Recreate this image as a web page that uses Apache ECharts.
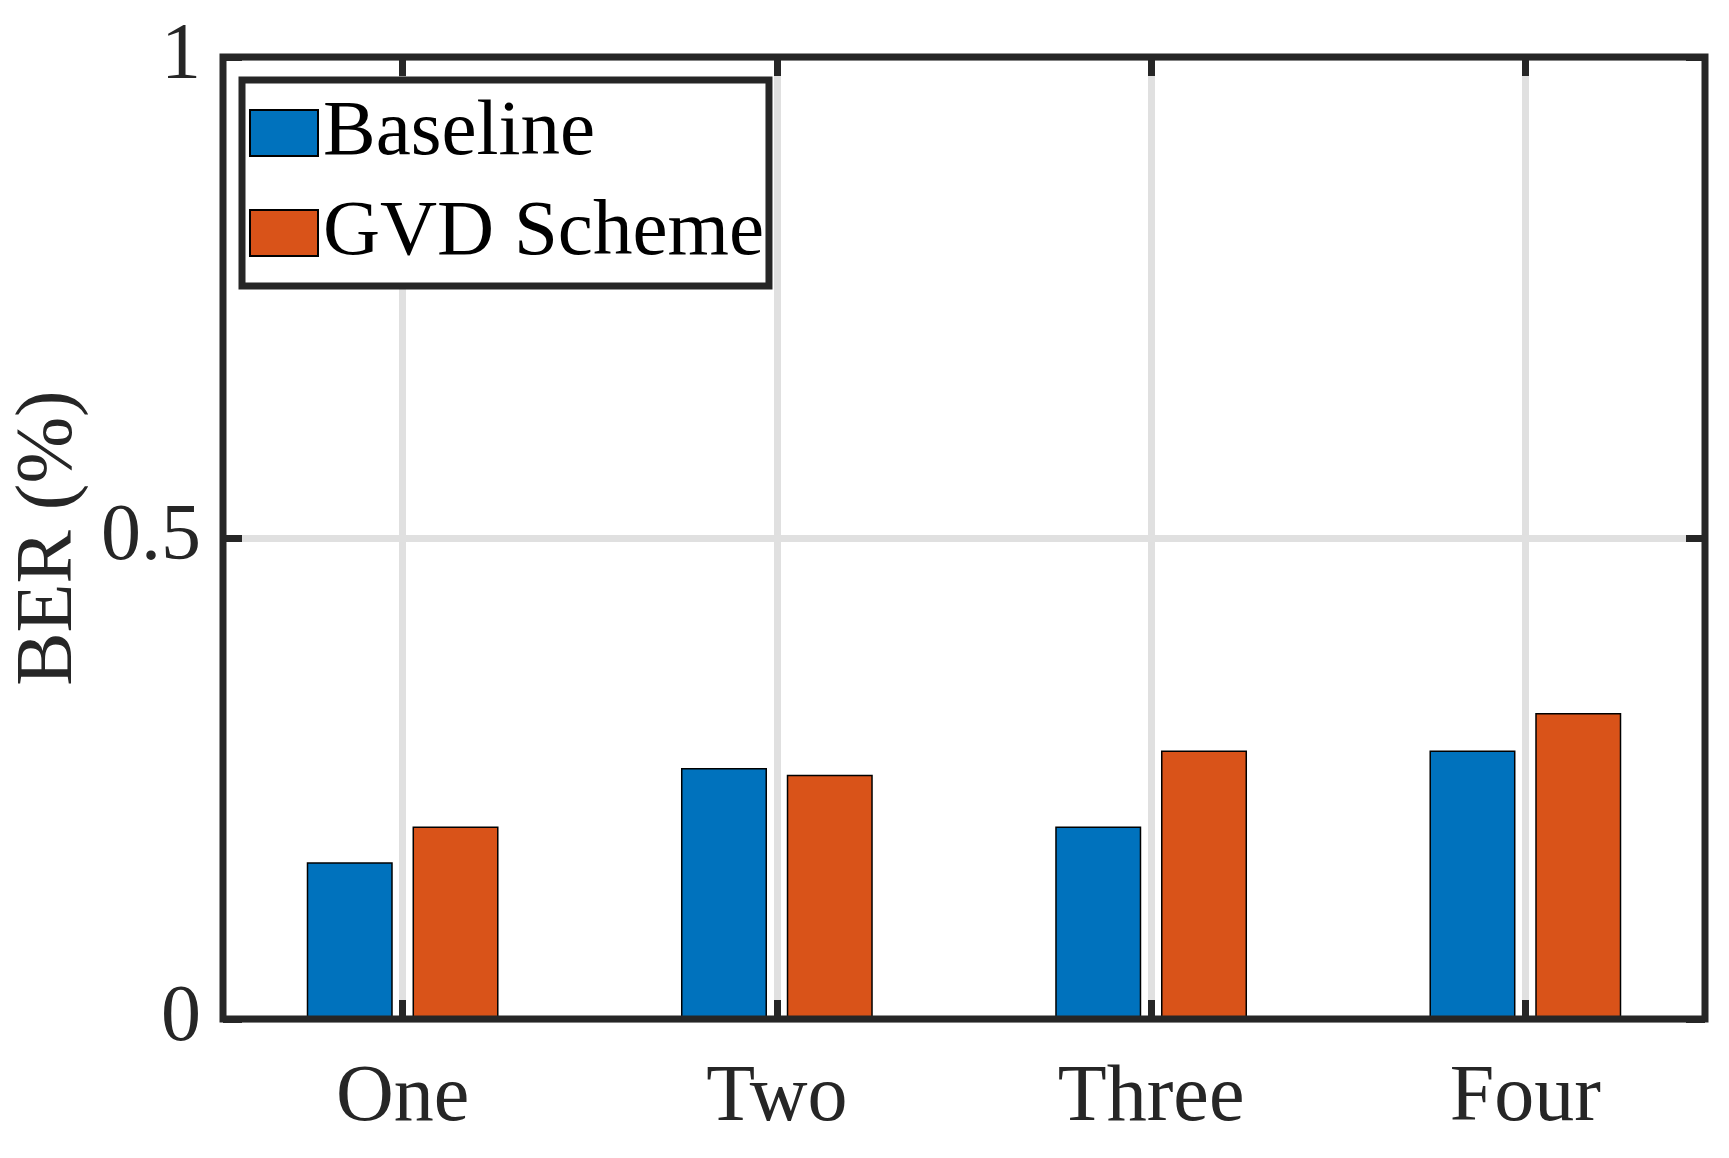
<!DOCTYPE html>
<html><head><meta charset="utf-8">
<script src="https://cdn.jsdelivr.net/npm/echarts@6/dist/echarts.min.js"></script>
<style>html,body{margin:0;padding:0;background:#fff}#c{width:1729px;height:1158px}</style>
</head><body><div id="c"></div>
<script>
const categories = ['One', 'Two', 'Three', 'Four'];
const categoryPositions = [1, 2, 3, 4];
const baselineValues = [0.163, 0.261, 0.200, 0.279];
const gvdValues = [0.200, 0.254, 0.279, 0.318];
const seriesNames = ['Baseline', 'GVD Scheme'];

const FONT = "'Liberation Serif', 'Times New Roman', serif";
const AX = '#262626';
const GRIDC = '#e0e0e0';

function pairs(vals) { return categoryPositions.map((x, i) => [x, vals[i]]); }

const chart = echarts.init(document.getElementById('c'), null, { renderer: 'canvas' });
chart.setOption({
  animation: false,
  backgroundColor: '#ffffff',
  grid: {
    show: true, z: 4, left: 223, right: 24, top: 57, bottom: 139,
    borderWidth: 7, borderColor: AX, backgroundColor: 'transparent',
    containLabel: false
  },
  legend: {
    show: true, z: 10, orient: 'vertical', left: 242, top: 80,
    padding: [6, 5, 6, 7], itemGap: 6, itemWidth: 68, itemHeight: 46,
    icon: 'rect', backgroundColor: '#ffffff', borderColor: AX, borderWidth: 7, borderRadius: 0,
    textStyle: { fontFamily: FONT, fontSize: 79, color: '#000', lineHeight: 80, padding: [14, 0, 0, 0] },
    data: seriesNames
  },
  xAxis: [{
    type: 'value', position: 'bottom', min: 0.52, max: 4.48,
    axisLine: { show: false, onZero: false },
    axisTick: { show: true, inside: true, length: 19, customValues: categoryPositions,
      lineStyle: { color: AX, width: 7 } },
    axisLabel: { show: true, customValues: categoryPositions, margin: 40,
      fontFamily: FONT, fontSize: 80, color: AX,
      formatter: v => categories[categoryPositions.indexOf(v)] || '' },
    splitLine: { show: true, lineStyle: { color: GRIDC, width: 7 } }
  }, {
    type: 'value', position: 'top', min: 0.52, max: 4.48,
    axisLine: { show: false, onZero: false },
    axisTick: { show: true, inside: true, length: 19, customValues: categoryPositions,
      lineStyle: { color: AX, width: 7 } },
    axisLabel: { show: false },
    splitLine: { show: false }
  }],
  yAxis: [{
    type: 'value', position: 'left', min: 0, max: 1, interval: 0.5,
    name: 'BER (%)', nameLocation: 'middle', nameRotate: 90, nameGap: 130,
    nameTextStyle: { fontFamily: FONT, fontSize: 80, color: AX },
    axisLine: { show: false, onZero: false },
    axisTick: { show: true, inside: true, length: 19, lineStyle: { color: AX, width: 7 } },
    axisLabel: { show: true, margin: 22, fontFamily: FONT, fontSize: 80, color: AX,
      padding: [6, 0, 0, 0], formatter: v => String(v) },
    splitLine: { show: true, lineStyle: { color: GRIDC, width: 7 } }
  }, {
    type: 'value', position: 'right', min: 0, max: 1, interval: 0.5,
    axisLine: { show: false, onZero: false },
    axisTick: { show: true, inside: true, length: 19, lineStyle: { color: AX, width: 7 } },
    axisLabel: { show: false },
    splitLine: { show: false }
  }],
  series: [{
    name: seriesNames[0], type: 'bar', xAxisIndex: 0, yAxisIndex: 0,
    barWidth: 86, barGap: '23%',
    itemStyle: { color: '#0072BD', borderColor: '#000', borderWidth: 1.5 },
    data: pairs(baselineValues)
  }, {
    name: seriesNames[1], type: 'bar', xAxisIndex: 0, yAxisIndex: 0,
    barWidth: 86, barGap: '23%',
    itemStyle: { color: '#D95319', borderColor: '#000', borderWidth: 1.5 },
    data: pairs(gvdValues)
  }]
});
</script></body></html>
